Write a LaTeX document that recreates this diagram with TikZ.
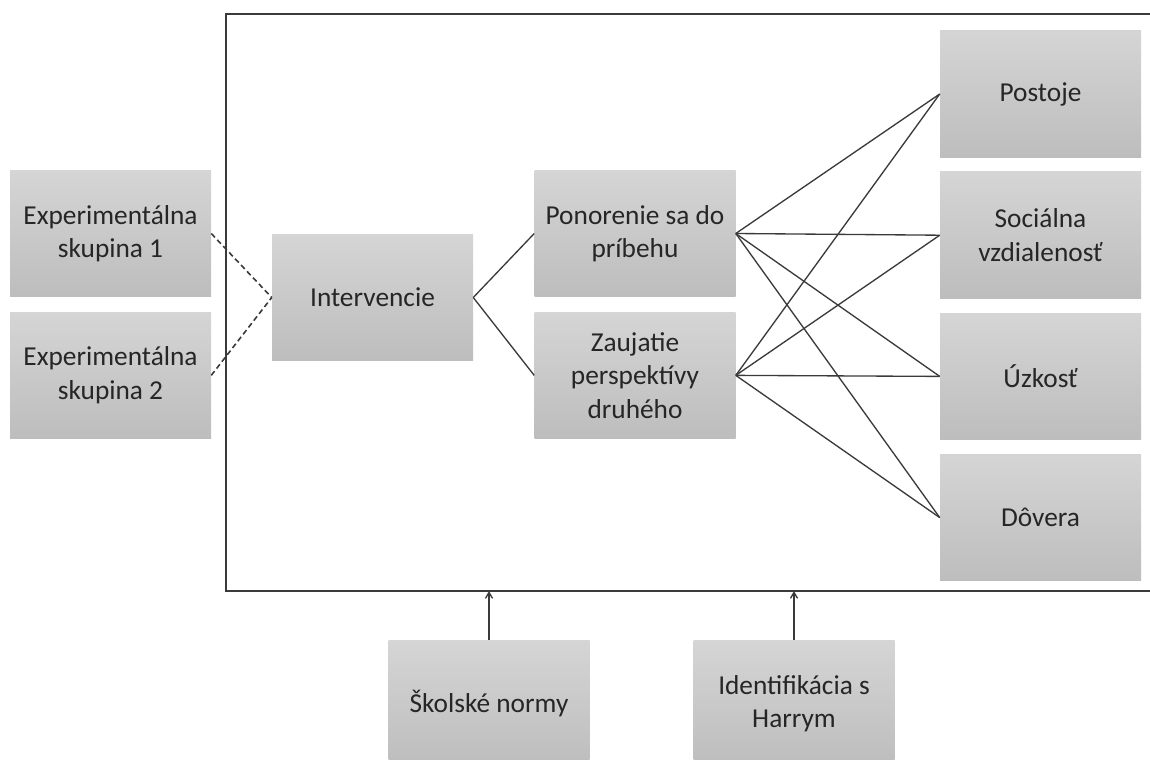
\documentclass[tikz,border=0pt]{standalone}
\usepackage{fontspec}
\setmainfont{Carlito}
\usepackage{tikz}
\usetikzlibrary{arrows,positioning}
\definecolor{boxtop}{HTML}{D5D5D5}
\definecolor{boxbot}{HTML}{BDBDBD}
\definecolor{linec}{HTML}{3A3A3A}
\tikzset{x=0.75pt,y=-0.75pt,
  box/.style={top color=boxtop,bottom color=boxbot,draw=none,minimum width=150.75pt,minimum height=95pt,
    align=center,text=black!85,font=\fontsize{20.5}{25}\selectfont,inner sep=0pt},
  link/.style={draw=linec,line width=1pt},
  frame/.style={draw=linec,line width=1.5pt}}
\begin{document}
\begin{tikzpicture}
    \useasboundingbox (0,0) rectangle (1150,760);
    \draw[frame] (1150,14) -| (226,591) -- (1150,591);
    \coordinate (fb) at (0,591);
    \node[box] (exp1) at (110.5,233.5) {Experimentálna\\skupina 1};
    \node[box] (exp2) [below=11pt of exp1] {Experimentálna\\skupina 2};
    \node[box] (interv) at (372.5,297.5) {Intervencie};
    \node[box] (ponor) at (635,233.5) {Ponorenie sa do\\príbehu};
    \node[box] (zaujat) [below=11pt of ponor] {Zaujatie\\perspektívy\\druhého};
    \node[box] (postoje) at (1040.5,94) {Postoje};
    \node[box] (soc) [below=10.5pt of postoje] {Sociálna\\vzdialenosť};
    \node[box] (uzkost) [below=10.5pt of soc] {Úzkosť};
    \node[box] (dovera) [below=10.5pt of uzkost] {Dôvera};
    \node[box] (normy) at (489,703.5) {Školské normy};
    \node[box] (harry) at (794,703.5) {Identifikácia s\\Harrym};
    \path[link,line width=1.2pt,dash pattern=on 4pt off 2.5pt]
    (exp1.east) edge (interv.west)
    (exp2.east) edge (interv.west)
    ;
    \path[link]
    (interv.east) edge (ponor.west)
    (interv.east) edge (zaujat.west)
    ;
    \foreach \a in {ponor,zaujat}
      \foreach \b in {postoje,soc,uzkost,dovera}
        \draw[link] (\a.east) -- (\b.west);
    \draw[link,-angle 60] (normy.north) -- (normy.north |- fb);
    \draw[link,-angle 60] (harry.north) -- (harry.north |- fb);
\end{tikzpicture}
\end{document}
